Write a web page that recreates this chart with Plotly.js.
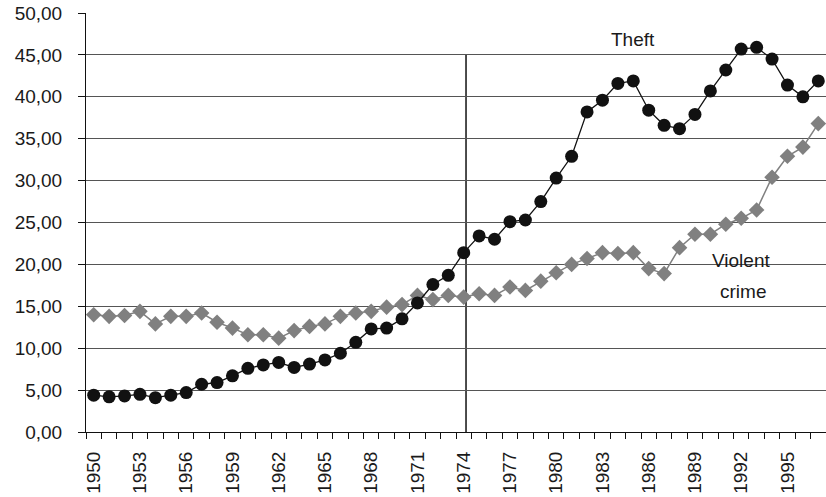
<!DOCTYPE html>
<html>
<head>
<meta charset="utf-8">
<script src="https://cdn.plot.ly/plotly-3.0.1.min.js"></script>
<style>
html,body{margin:0;padding:0;background:#fff;}
#chart{width:826px;height:497px;}
</style>
</head>
<body>
<div id="chart"></div>
<script>
const years = [1950,1951,1952,1953,1954,1955,1956,1957,1958,1959,
               1960,1961,1962,1963,1964,1965,1966,1967,1968,1969,
               1970,1971,1972,1973,1974,1975,1976,1977,1978,1979,
               1980,1981,1982,1983,1984,1985,1986,1987,1988,1989,
               1990,1991,1992,1993,1994,1995,1996,1997];

const theft = [4.4,4.2,4.3,4.5,4.1,4.4,4.7,5.7,5.9,6.7,
               7.6,8.0,8.3,7.7,8.1,8.6,9.4,10.7,12.3,12.4,
               13.5,15.4,17.6,18.7,21.4,23.4,23.0,25.1,25.3,27.5,
               30.3,32.9,38.2,39.6,41.6,41.9,38.4,36.6,36.2,37.9,
               40.7,43.2,45.7,45.9,44.5,41.4,40.0,41.9];

const violent = [14.0,13.8,13.9,14.4,12.9,13.8,13.8,14.2,13.1,12.4,
                 11.6,11.6,11.2,12.1,12.6,12.9,13.8,14.2,14.4,14.9,
                 15.2,16.3,15.8,16.3,16.1,16.5,16.3,17.3,16.9,18.0,
                 19.0,20.0,20.7,21.4,21.3,21.4,19.5,18.9,22.0,23.6,
                 23.6,24.8,25.5,26.5,30.4,32.9,34.0,36.8];

const xTickLabels = [1950,1953,1956,1959,1962,1965,1968,1971,1974,1977,1980,1983,1986,1989,1992,1995];
const yTicks = [0,5,10,15,20,25,30,35,40,45,50];
const markerYear = 1974.15;
const markerTop = 45;

const fontFam = '"Liberation Sans", Arial, sans-serif';
const txtColor = '#1a1a1a';
const fs = 19;

const traces = [
  {
    x: years, y: violent, type: 'scatter', mode: 'lines+markers',
    name: 'Violent crime',
    line: {color: '#808080', width: 1.5},
    marker: {symbol: 'diamond', size: 12, color: '#808080'}
  },
  {
    x: years, y: theft, type: 'scatter', mode: 'lines+markers',
    name: 'Theft',
    line: {color: '#111111', width: 1.3},
    marker: {symbol: 'circle', size: 13, color: '#111111'}
  }
];

const layout = {
  width: 826, height: 497,
  margin: {l: 86, r: 0, t: 13, b: 65},
  paper_bgcolor: '#ffffff', plot_bgcolor: '#ffffff',
  showlegend: false,
  font: {family: fontFam, size: fs, color: txtColor},
  xaxis: {
    type: 'linear',
    range: [1949.5, 1997.5],
    tickmode: 'array',
    tickvals: xTickLabels,
    ticktext: xTickLabels.map(String),
    tickangle: -90,
    ticks: '',
    ticklabelstandoff: 11,
    showgrid: false,
    zeroline: false,
    showline: true, linecolor: '#111', linewidth: 1,
    minor: {ticks: 'outside', tick0: 1949.5, dtick: 1, ticklen: 6, tickcolor: '#111', tickwidth: 1, showgrid: false},
    tickfont: {family: fontFam, size: fs, color: txtColor}
  },
  yaxis: {
    range: [0, 50],
    tickmode: 'array',
    tickvals: yTicks,
    ticktext: yTicks.map(v => v.toFixed(2).replace('.', ',')),
    ticks: 'outside', ticklen: 7, tickcolor: '#111', tickwidth: 1,
    ticklabelstandoff: 12,
    showgrid: true, gridcolor: '#555', gridwidth: 1,
    zeroline: false,
    showline: true, linecolor: '#111', linewidth: 1,
    tickfont: {family: fontFam, size: fs, color: txtColor}
  },
  shapes: [
    {type: 'line', xref: 'x', yref: 'y', x0: markerYear, x1: markerYear, y0: 0, y1: markerTop,
     line: {color: '#111', width: 1.5}, layer: 'below'}
  ],
  annotations: [
    {x: 1985, y: 46.8, xref: 'x', yref: 'y', text: 'Theft', showarrow: false,
     font: {family: fontFam, size: fs, color: txtColor}},
    {x: 1992, y: 20.5, xref: 'x', yref: 'y', text: 'Violent', showarrow: false,
     font: {family: fontFam, size: fs, color: txtColor}},
    {x: 1992.1, y: 16.8, xref: 'x', yref: 'y', text: 'crime', showarrow: false,
     font: {family: fontFam, size: fs, color: txtColor}}
  ]
};

Plotly.newPlot('chart', traces, layout, {displayModeBar: false, staticPlot: true});
</script>
</body>
</html>
